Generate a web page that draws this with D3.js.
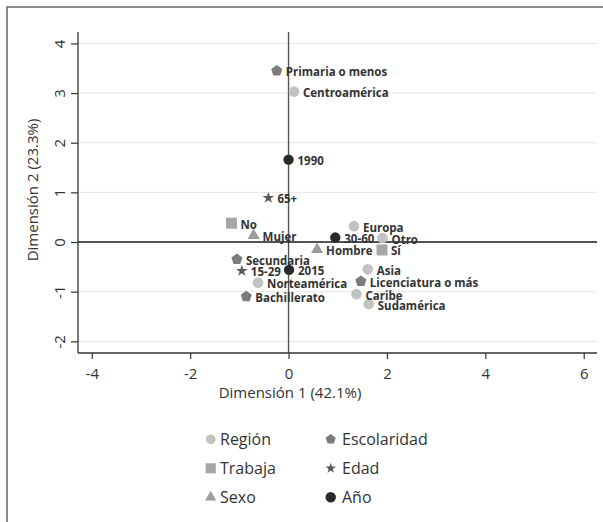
<!DOCTYPE html>
<html><head><meta charset="utf-8">
<script src="https://cdn.jsdelivr.net/npm/d3@7"></script>
<style>body{margin:0;background:#fff} svg{display:block} text{font-family:"Open Sans",sans-serif}</style>
</head><body><svg id="c" width="603" height="522"></svg>
<script>
const categories = ["Primaria o menos","Centroamérica","1990","65+","No","Mujer","Europa","30-60","Otro","Sí","Hombre","Secundaria","15-29","2015","Asia","Norteamérica","Licenciatura o más","Bachillerato","Caribe","Sudamérica"];
const groups = ["Escolaridad","Región","Año","Edad","Trabaja","Sexo","Región","Año","Región","Trabaja","Sexo","Escolaridad","Edad","Año","Región","Región","Escolaridad","Escolaridad","Región","Región"];
const dim1 = [-0.24, 0.11, 0.0, -0.41, -1.16, -0.71, 1.33, 0.95, 1.91, 1.90, 0.58, -1.05, -0.95, 0.01, 1.61, -0.62, 1.47, -0.86, 1.38, 1.63];
const dim2 = [3.45, 3.03, 1.66, 0.89, 0.38, 0.13, 0.32, 0.09, 0.08, -0.16, -0.15, -0.35, -0.58, -0.56, -0.55, -0.82, -0.79, -1.10, -1.05, -1.25];
const groupNames = ["Región","Trabaja","Sexo","Escolaridad","Edad","Año"];
const xTicks = [-4,-2,0,2,4,6];
const yTicks = [-2,-1,0,1,2,3,4];
const xTitle = "Dimensión 1 (42.1%)";
const yTitle = "Dimensión 2 (23.3%)";

const svg = d3.select("#c");
const x = d3.scaleLinear().domain([-4.28, 6.27]).range([78, 597]);
const y = d3.scaleLinear().domain([-2.235, 4.23]).range([353, 32]);

const colors = {"Región":"#c2c2c2","Trabaja":"#a6a6a6","Sexo":"#9c9c9c","Escolaridad":"#7b7b7b","Edad":"#5a5a5a","Año":"#2a2a2a"};

function pentagon(r){
  const p = d3.path();
  for(let k=0;k<5;k++){
    const a = -Math.PI/2 + k*2*Math.PI/5;
    const px = r*Math.cos(a), py = r*Math.sin(a);
    if(k===0) p.moveTo(px,py); else p.lineTo(px,py);
  }
  p.closePath();
  return p.toString();
}
function shape(g, big){
  const s = big ? 1 : 0.92;
  switch(g){
    case "Región": return d3.symbol(d3.symbolCircle, Math.PI*Math.pow(5.3*s,2))();
    case "Trabaja": return d3.symbol(d3.symbolSquare, Math.pow(11*s,2))();
    case "Sexo": return d3.symbol(d3.symbolTriangle, 65*s*s)();
    case "Escolaridad": return pentagon(5.8*s);
    case "Edad": return d3.symbol(d3.symbolStar, 42*s*s)();
    case "Año": return d3.symbol(d3.symbolCircle, Math.PI*Math.pow(5.2,2))();
  }
}

// frame
svg.append("rect").attr("x",7).attr("y",7).attr("width",640).attr("height",560)
  .attr("fill","none").attr("stroke","#707070").attr("stroke-width",1.6);

// gridlines
svg.append("g").selectAll("line").data(yTicks.filter(d=>d!==0)).join("line")
  .attr("x1",78).attr("x2",597).attr("y1",d=>y(d)).attr("y2",d=>y(d))
  .attr("stroke","#e6e6e6").attr("stroke-width",1);

// zero lines
svg.append("line").attr("x1",x(0)).attr("x2",x(0)).attr("y1",32).attr("y2",353)
  .attr("stroke","#555").attr("stroke-width",1.4);
svg.append("line").attr("x1",78).attr("x2",597).attr("y1",y(0)).attr("y2",y(0))
  .attr("stroke","#1a1a1a").attr("stroke-width",1.4);

// axes
const xa = svg.append("g").attr("transform","translate(0,353)")
  .call(d3.axisBottom(x).tickValues(xTicks).tickFormat(d3.format("d")).tickSize(6).tickPadding(9).tickSizeOuter(0));
const ya = svg.append("g").attr("transform","translate(78,0)")
  .call(d3.axisLeft(y).tickValues(yTicks).tickFormat(d3.format("d")).tickSize(7).tickSizeOuter(0));
[xa, ya].forEach(a=>{
  a.select(".domain").attr("stroke","#333").attr("stroke-width",1.3);
  a.selectAll(".tick line").attr("stroke","#333").attr("stroke-width",1.2);
  a.selectAll("text").attr("fill","#333").attr("font-size",15).attr("font-family","'Open Sans',sans-serif");
});
xa.select(".domain").attr("d","M78,0H597");
ya.select(".domain").attr("d","M0,32V353");
ya.selectAll(".tick text").attr("text-anchor","middle").attr("transform","rotate(-90)")
  .attr("x",0).attr("y",-18).attr("dy","0.35em");
xa.selectAll(".tick text").text(d=>d<0 ? "-"+Math.abs(d) : d);
ya.selectAll(".tick text").text(d=>d<0 ? "-"+Math.abs(d) : d);

// titles
svg.append("text").attr("x",290).attr("y",398).attr("text-anchor","middle")
  .attr("font-size",15).attr("fill","#333").text(xTitle);
svg.append("text").attr("transform","translate(38,190) rotate(-90)").attr("text-anchor","middle")
  .attr("font-size",15).attr("fill","#333").text(yTitle);

// points
const pts = categories.map((c,i)=>({c, g:groups[i], x:dim1[i], y:dim2[i]}));
const pg = svg.append("g");
pg.selectAll("path").data(pts).join("path")
  .attr("d",d=>shape(d.g,true))
  .attr("transform",d=>`translate(${x(d.x)},${y(d.y)})`)
  .attr("fill",d=>colors[d.g]);
pg.selectAll("text").data(pts).join("text")
  .attr("x",d=>x(d.x)+9).attr("y",d=>y(d.y)+1.5).attr("dy","0.35em")
  .attr("font-size",11.5).attr("font-weight","bold").attr("fill","#333")
  .text(d=>d.c);

// legend
const lg = svg.append("g");
const legItems = groupNames.map((n,i)=>({n, col:Math.floor(i/3), row:i%3}));
lg.selectAll("path").data(legItems).join("path")
  .attr("d",d=>shape(d.n,false))
  .attr("transform",d=>`translate(${d.col===0?210.7:330.7},${439.3+d.row*29})`)
  .attr("fill",d=>colors[d.n]);
lg.selectAll("text").data(legItems).join("text")
  .attr("x",d=>d.col===0?220:342).attr("y",d=>439.3+d.row*29).attr("dy","0.35em")
  .attr("font-size",16).attr("fill","#333").text(d=>d.n);
</script></body></html>
